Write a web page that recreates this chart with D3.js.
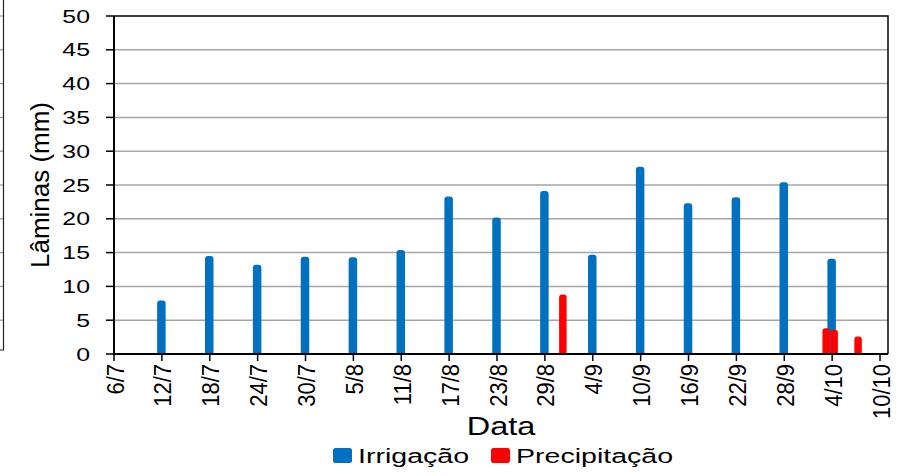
<!DOCTYPE html>
<html><head><meta charset="utf-8">
<script src="https://cdn.jsdelivr.net/npm/d3@7/dist/d3.min.js"></script>
<style>body{margin:0;background:#fff}svg{display:block;font-family:"Liberation Sans",Arial,sans-serif}</style>
</head><body><svg id="c" width="906" height="476"></svg>
<script>
// Data
const irrigDates = ["12/7","18/7","24/7","30/7","5/8","11/8","17/8","23/8","29/8","4/9","10/9","16/9","22/9","28/9","4/10"];
const irrigValues = [7.9,14.5,13.2,14.4,14.3,15.4,23.3,20.2,24.1,14.7,27.7,22.3,23.2,25.4,14.1];
const precipDates = ["31/8","3/10","4/10","7/10"];
const precipValues = [8.8,3.8,3.6,2.6];
const xTickLabels = ["6/7","12/7","18/7","24/7","30/7","5/8","11/8","17/8","23/8","29/8","4/9","10/9","16/9","22/9","28/9","4/10","10/10"];
const yTicks = [0,5,10,15,20,25,30,35,40,45,50];
const seriesNames = ["Irrigação","Precipitação"];
const colors = ["#0070C0","#FF0000"];

const parse = s => { const [d,m] = s.split("/").map(Number); return new Date(2012, m-1, d); };
const svg = d3.select("#c");
const L = 114, R = 888, T = 16, B = 354;
const x = d3.scaleTime().domain([parse("6/7"), parse("11/10")]).range([L, R]);
const y = d3.scaleLinear().domain([0,50]).range([B, T]);

// fragment of a neighbouring chart at far left
const frag = svg.append("g");
frag.selectAll("line.g").data(yTicks.filter(v=>v>0)).join("line")
  .attr("x1",0).attr("x2",3).attr("y1",d=>y(d)).attr("y2",d=>y(d))
  .attr("stroke","#999").attr("stroke-width",1.2);
frag.append("path").attr("d","M3.5,0V350H0").attr("fill","none").attr("stroke","#222").attr("stroke-width",1.2);

// gridlines
svg.append("g").selectAll("line").data(yTicks.filter(v=>v>0 && v<50)).join("line")
  .attr("x1",L).attr("x2",R).attr("y1",d=>y(d)).attr("y2",d=>y(d))
  .attr("stroke","#a6a6a6").attr("stroke-width",1.5);

// border top/right
svg.append("path").attr("d",`M${L},${T}H${R}V${B}`).attr("fill","none").attr("stroke","#000").attr("stroke-width",1.5);

// bars
function barPath(cx, w, v) {
  const x0 = cx - w/2, x1 = cx + w/2, yt = y(v), r = Math.min(3, (B-yt)/2);
  return `M${x0},${B}V${yt+r}Q${x0},${yt} ${x0+r},${yt}H${x1-r}Q${x1},${yt} ${x1},${yt+r}V${B}Z`;
}
svg.append("g").selectAll("path").data(irrigDates.map((d,i)=>({d,v:irrigValues[i]}))).join("path")
  .attr("d",e=>barPath(x(parse(e.d))-0.5, 8.5, e.v)).attr("fill",colors[0]);
svg.append("g").selectAll("path").data(precipDates.map((d,i)=>({d,v:precipValues[i]}))).join("path")
  .attr("d",e=>barPath(x(parse(e.d))+2, 7.5, e.v)).attr("fill",colors[1]);

// axes lines
svg.append("line").attr("x1",L).attr("x2",L).attr("y1",T).attr("y2",B+1).attr("stroke","#000").attr("stroke-width",2);
svg.append("line").attr("x1",L-1).attr("x2",R).attr("y1",B).attr("y2",B).attr("stroke","#000").attr("stroke-width",2);

// y ticks
const yg = svg.append("g");
yg.selectAll("line").data(yTicks).join("line")
  .attr("x1",106).attr("x2",L).attr("y1",d=>y(d)).attr("y2",d=>y(d)).attr("stroke","#000").attr("stroke-width",1.5);
yg.selectAll("text").data(yTicks).join("text")
  .attr("transform",d=>`translate(90,${y(d)+6.5}) scale(1.38,1)`)
  .attr("text-anchor","end").attr("font-size",18).attr("fill","#000").text(d=>d);

// x ticks
const xg = svg.append("g");
xg.selectAll("line").data(xTickLabels).join("line")
  .attr("x1",d=>x(parse(d))).attr("x2",d=>x(parse(d))).attr("y1",B).attr("y2",B+7).attr("stroke","#000").attr("stroke-width",1.5);
xg.selectAll("text").data(xTickLabels).join("text")
  .attr("transform",d=>`translate(${x(parse(d))+1.5},364) scale(1.05,1) rotate(-90)`)
  .attr("text-anchor","end").attr("dy","0.35em").attr("font-size",22).attr("fill","#000").text(d=>d);

// axis titles
svg.append("text").attr("transform","translate(501,435) scale(1.3,1)").attr("text-anchor","middle")
  .attr("font-size",25).text("Data");
svg.append("text").attr("transform","translate(49,185) rotate(-90)").attr("text-anchor","middle")
  .attr("font-size",25).attr("textLength",166).attr("lengthAdjust","spacingAndGlyphs").text("Lâminas (mm)");

// legend
const legX = [333, 491], legT = [358, 516];
const lg = svg.append("g");
seriesNames.forEach((n,i)=>{
  lg.append("rect").attr("x",legX[i]).attr("y",448).attr("width",19).attr("height",15).attr("rx",2.5).attr("fill",colors[i]);
  lg.append("text").attr("transform",`translate(${legT[i]},463) scale(1.36,1)`).attr("font-size",21).text(n);
});
</script></body></html>
